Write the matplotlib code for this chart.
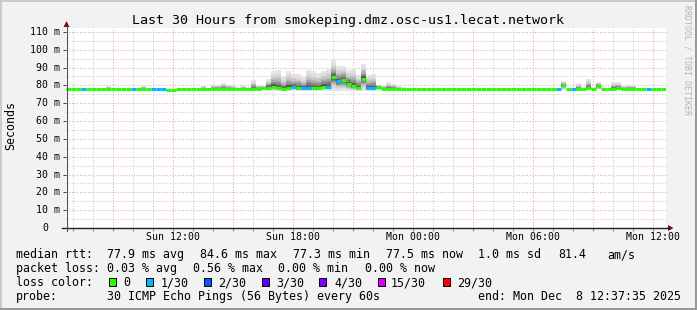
import numpy as np
import matplotlib.pyplot as plt
import matplotlib.dates as mdates
import matplotlib.transforms as mtransforms
from matplotlib.patches import Rectangle, Polygon
from matplotlib.lines import Line2D
from matplotlib.ticker import MultipleLocator, FuncFormatter, NullFormatter
from datetime import datetime, timedelta

plt.rcParams['font.family'] = ['DejaVu Sans Mono']

W, H = 697, 310
end_time = datetime(2025, 12, 8, 12, 37, 35)
start_time = end_time - timedelta(hours=30)
step_minutes = 15  # one value per 15 min, 120 steps

# median rtt (ms) per step
median = [
    78.0, 78.0, 78.0, 78.0, 78.0, 78.0, 78.0, 78.0, 78.0, 78.0,
    78.0, 78.0, 78.0, 78.0, 78.0, 78.0, 78.0, 77.7, 77.7, 77.7,
    77.6, 77.6, 77.9, 77.9, 77.9, 77.9, 77.9, 77.9, 77.9, 77.9,
    77.9, 77.9, 77.9, 77.9, 77.9, 77.9, 77.9, 77.9, 77.9, 78.4,
    78.8, 79.3, 78.4, 78.2, 78.6, 79.0, 78.5, 78.4, 78.5, 78.3,
    78.3, 79.3, 79.0, 84.6, 82.3, 82.8, 80.8, 79.4, 78.6, 83.8,
    78.5, 78.5, 79.3, 78.0, 78.0, 78.0, 77.9, 77.9, 77.9, 77.9,
    77.8, 77.8, 77.8, 77.8, 77.8, 77.8, 77.8, 77.8, 77.8, 77.8,
    77.8, 77.8, 77.8, 77.8, 77.8, 77.8, 77.8, 77.8, 77.8, 77.8,
    77.8, 77.8, 77.8, 77.8, 77.8, 77.8, 77.8, 77.8, 77.8, 80.0,
    78.0, 77.8, 77.8, 77.8, 78.3, 77.8, 79.6, 77.8, 77.8, 77.8,
    78.3, 77.8, 77.8, 77.8, 77.8, 77.8, 77.8, 77.8, 77.8, 77.8,
]

# lost pings out of 30 per step
loss = [
    0, 0, 0, 1, 0, 0, 0, 0, 0, 0,
    0, 0, 0, 1, 0, 0, 0, 1, 1, 1,
    0, 0, 0, 0, 0, 0, 0, 0, 0, 0,
    0, 0, 0, 0, 0, 0, 0, 0, 0, 0,
    0, 0, 0, 0, 0, 1, 0, 1, 1, 0,
    0, 0, 1, 0, 1, 0, 0, 0, 0, 0,
    1, 1, 0, 0, 0, 0, 0, 0, 0, 0,
    0, 0, 0, 0, 0, 0, 0, 0, 0, 0,
    0, 0, 0, 0, 0, 0, 0, 0, 0, 0,
    0, 0, 0, 0, 0, 0, 0, 0, 1, 0,
    0, 1, 0, 0, 0, 0, 0, 0, 0, 0,
    0, 0, 0, 0, 0, 0, 1, 0, 0, 0,
]

# slowest ping (top of smoke) per step
ping_max = [
    78.0, 78.0, 78.0, 78.0, 78.0, 78.0, 78.0, 78.0, 79.5, 78.0,
    78.0, 78.0, 78.0, 78.0, 78.0, 79.8, 78.0, 77.7, 77.7, 77.7,
    77.6, 77.6, 77.9, 77.9, 77.9, 77.9, 77.9, 80.0, 78.5, 80.5,
    80.5, 81.5, 80.5, 80.0, 79.0, 80.0, 79.0, 83.2, 80.5, 80.0,
    83.4, 87.9, 88.8, 85.0, 88.0, 86.4, 86.4, 84.5, 88.8, 88.0,
    87.0, 88.3, 89.8, 94.0, 90.7, 91.1, 88.8, 89.8, 86.0, 92.0,
    86.0, 86.4, 80.5, 80.0, 81.7, 81.0, 79.5, 79.0, 77.9, 77.9,
    77.8, 77.8, 77.8, 77.8, 77.8, 77.8, 77.8, 77.8, 77.8, 77.8,
    77.8, 77.8, 77.8, 77.8, 77.8, 77.8, 77.8, 77.8, 77.8, 77.8,
    77.8, 77.8, 77.8, 77.8, 77.8, 77.8, 77.8, 77.8, 77.8, 82.3,
    78.0, 77.8, 81.3, 79.0, 83.8, 79.0, 81.9, 77.8, 77.8, 81.9,
    81.9, 80.0, 80.4, 80.4, 77.8, 77.8, 77.8, 77.8, 77.8, 77.8,
]

# fastest ping (bottom of smoke) per step
ping_min = [
    78.0, 78.0, 78.0, 78.0, 78.0, 78.0, 78.0, 78.0, 78.0, 78.0,
    78.0, 78.0, 78.0, 78.0, 78.0, 78.0, 78.0, 77.7, 77.7, 77.7,
    77.6, 77.6, 77.9, 77.9, 77.9, 77.9, 77.9, 77.9, 77.9, 77.9,
    77.9, 77.9, 77.9, 77.9, 77.9, 77.9, 77.9, 77.3, 77.9, 77.5,
    77.0, 76.8, 76.8, 76.8, 76.8, 76.8, 76.8, 76.8, 76.8, 76.8,
    76.8, 76.8, 76.8, 76.8, 76.8, 76.8, 76.8, 76.8, 76.8, 76.8,
    76.8, 76.8, 77.3, 77.9, 77.6, 77.6, 77.9, 77.9, 77.9, 77.9,
    77.8, 77.8, 77.8, 77.8, 77.8, 77.8, 77.8, 77.8, 77.8, 77.8,
    77.8, 77.8, 77.8, 77.8, 77.8, 77.8, 77.8, 77.8, 77.8, 77.8,
    77.8, 77.8, 77.8, 77.8, 77.8, 77.8, 77.8, 77.8, 77.8, 77.2,
    78.0, 77.8, 77.4, 77.8, 77.2, 77.8, 77.3, 77.8, 77.8, 77.4,
    77.4, 77.6, 77.5, 77.5, 77.8, 77.8, 77.8, 77.8, 77.8, 77.8,
]

loss_levels = [0, 1, 2, 3, 4, 15, 29]
loss_labels = ['0', '1/30', '2/30', '3/30', '4/30', '15/30', '29/30']
loss_colors = ['#26ff00', '#00b8ff', '#0059ff', '#5e00ff', '#7e00ff', '#dd00ff', '#ff0000']

rtt_stats = ['77.9 ms avg', '84.6 ms max', '77.3 ms min', '77.5 ms now', '1.0 ms sd', '81.4', 'am/s']
loss_stats = ['0.03 % avg', '0.56 % max', '0.00 % min', '0.00 % now']
title = 'Last 30 Hours from smokeping.dmz.osc-us1.lecat.network'
probe = '30 ICMP Echo Pings (56 Bytes) every 60s'


def loss_color(n):
    c = loss_colors[0]
    for lvl, col in zip(loss_levels, loss_colors):
        if n >= lvl:
            c = col
    return c


def fx(x):
    return x / W


def fy(y):
    return 1 - y / H


fig = plt.figure(figsize=(W / 100, H / 100), dpi=100, facecolor='#f2f2f2')
ax = fig.add_axes([fx(66), fy(228), 600 / W, 200 / H])
ax.set_facecolor('white')

edges = [start_time + timedelta(minutes=step_minutes * i) for i in range(len(median) + 1)]
xe = mdates.date2num(edges)
med = np.array(median)
hi = np.array(ping_max)
lo = np.array(ping_min)

# smoke: nested bands, light outside, dark only close to the median
n_bands = 12
greys = 0.90 - 0.62 * (np.arange(n_bands) / (n_bands - 1)) ** 2
for k in range(n_bands):
    f = 1 - k / n_bands
    top = med + (hi - med) * f
    bot = med - (med - lo) * f
    ax.fill_between(xe, np.append(bot, bot[-1]), np.append(top, top[-1]),
                    step='post', color=str(greys[k]), lw=0, zorder=2)

ax.hlines(med, xe[:-1], xe[1:], colors=[loss_color(n) for n in loss],
          lw=2.2, capstyle='butt', zorder=3)

ax.set_xlim(xe[0], xe[-1])
ax.set_ylim(0, 112.2)

ax.xaxis.set_major_locator(mdates.HourLocator(byhour=range(0, 24, 3)))
ax.xaxis.set_minor_locator(mdates.HourLocator())


def xlabel(v, pos):
    d = mdates.num2date(v)
    return d.strftime('%a %H:%M') if d.hour % 6 == 0 else ''


ax.xaxis.set_major_formatter(FuncFormatter(xlabel))
ax.yaxis.set_major_locator(MultipleLocator(10))
ax.yaxis.set_minor_locator(MultipleLocator(5))
ax.yaxis.set_major_formatter(NullFormatter())

ax.set_axisbelow(True)
ax.grid(which='major', color='#eaa4a4', lw=0.75, ls=(0, (1, 1.6)))
ax.grid(which='minor', color='#cccccc', lw=0.75, ls=(0, (1, 1.6)))

ax.tick_params(axis='x', which='major', direction='out', length=2, width=0.7,
               color='#e05050', labelsize=7.1, pad=1.2)
ax.tick_params(axis='x', which='minor', direction='out', length=2, width=0.7,
               color='#8c8c8c')
ax.tick_params(axis='y', which='major', direction='out', length=2.5, width=0.7,
               color='#404040')
ax.tick_params(axis='y', which='minor', length=0)
for s in ax.spines.values():
    s.set_visible(False)

# y tick labels placed on the data scale
ylab_tr = mtransforms.blended_transform_factory(fig.transFigure, ax.transData)
for v in ax.get_yticks():
    if 0 <= v <= 110:
        if v == 0:
            ax.text(fx(48), v, '0', transform=ylab_tr, ha='right', va='center', fontsize=7.1)
        else:
            ax.text(fx(60), v, f'{v:.0f} m', transform=ylab_tr, ha='right', va='center', fontsize=7.1)

# axes lines with arrows
fig.add_artist(Line2D([fx(62), fx(670)], [fy(228), fy(228)], color='#202020', lw=1.0))
fig.add_artist(Line2D([fx(66.5), fx(66.5)], [fy(231), fy(26)], color='#505050', lw=0.8))
fig.add_artist(Polygon([(fx(668), fy(225)), (fx(668), fy(231)), (fx(673.5), fy(228))],
                       closed=True, color='#801010', lw=0))
fig.add_artist(Polygon([(fx(63.5), fy(27)), (fx(69.5), fy(27)), (fx(66.5), fy(21))],
                       closed=True, color='#801010', lw=0))

# frame
fig.add_artist(Rectangle((0, fy(2)), 1, 2 / H, color='#cbcbcb', lw=0))
fig.add_artist(Rectangle((0, 0), 2 / W, 1, color='#cbcbcb', lw=0))
fig.add_artist(Rectangle((0, 0), 1, 2 / H, color='#999999', lw=0))
fig.add_artist(Rectangle((fx(W - 2), 0), 2 / W, 1, color='#999999', lw=0))

fig.text(fx(347.5), fy(24), title, ha='center', va='baseline', fontsize=9.6)
fig.text(fx(11), fy(126), 'Seconds', rotation=90, ha='center', va='center', fontsize=8.4)
fig.text(fx(687), fy(60), 'RRDTOOL / TOBI OETIKER', rotation=270, ha='center',
         va='center', fontsize=6, color='#b4b4b4')

fs = 8.4
base = [258, 272, 286, 300]
fig.text(fx(16), fy(base[0]), 'median rtt:', va='baseline', fontsize=fs)
for s, x in zip(rtt_stats, [107, 200, 293, 386, 478, 558, 607]):
    fig.text(fx(x), fy(base[0]), s, va='baseline', fontsize=fs)

fig.text(fx(16), fy(base[1]), 'packet loss:', va='baseline', fontsize=fs)
for s, x in zip(loss_stats, [107, 193, 278, 365]):
    fig.text(fx(x), fy(base[1]), s, va='baseline', fontsize=fs)

fig.text(fx(16), fy(base[2]), 'loss color:', va='baseline', fontsize=fs)
for lab, col, bx, tx in zip(loss_labels, loss_colors,
                            [109, 146, 204, 262, 319, 378, 443],
                            [123, 161, 218, 276, 334, 391, 457]):
    fig.add_artist(Rectangle((fx(bx), fy(286)), 7 / W, 8 / H, facecolor=col,
                             edgecolor='black', lw=0.7))
    fig.text(fx(tx), fy(base[2]), lab, va='baseline', fontsize=fs)

fig.text(fx(16), fy(base[3]), 'probe:', va='baseline', fontsize=fs)
fig.text(fx(107), fy(base[3]), probe, va='baseline', fontsize=fs)
fig.text(fx(478), fy(base[3]), 'end: ' + end_time.strftime('%a %b ') + f'{end_time.day:2d}'
         + end_time.strftime(' %H:%M:%S %Y'), va='baseline', fontsize=fs)

fig.savefig('out.png', dpi=100, facecolor=fig.get_facecolor())
